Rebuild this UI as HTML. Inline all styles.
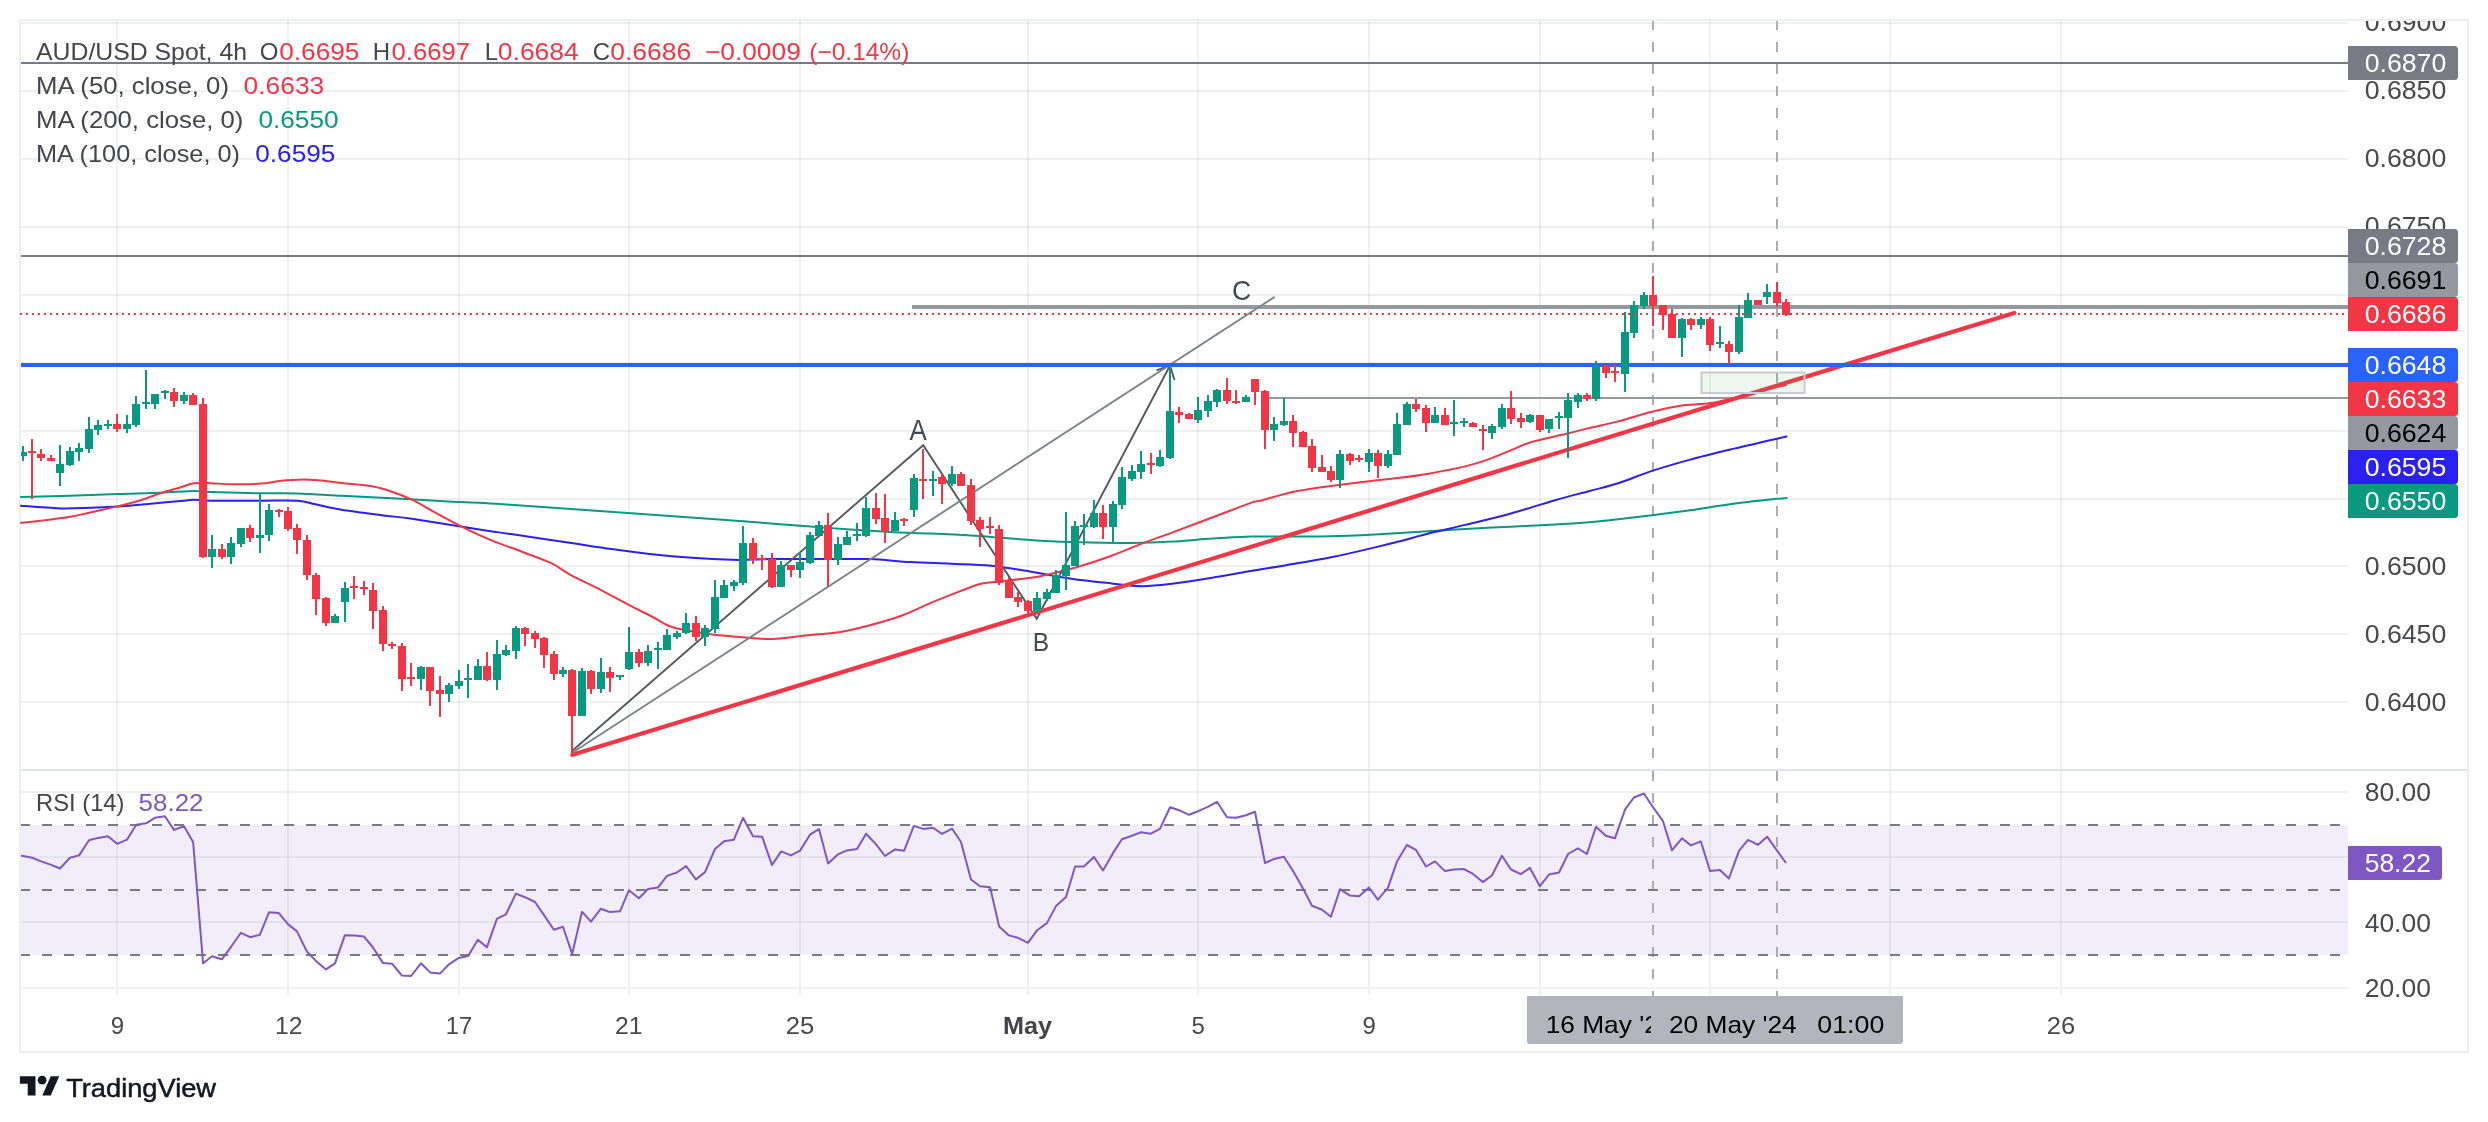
<!DOCTYPE html><html><head><meta charset="utf-8"><title>AUD/USD</title><style>html,body{margin:0;padding:0;background:#fff}body{width:2488px;height:1122px;overflow:hidden}</style></head><body><svg width="2488" height="1122" viewBox="0 0 2488 1122" font-family="Liberation Sans, sans-serif" style="display:block;will-change:transform">
<rect x="0" y="0" width="2488" height="1122" fill="#fff" />
<g shape-rendering="crispEdges">
<rect x="116" y="21" width="2" height="974" fill="#0a2e1a" fill-opacity="0.065"/>
<rect x="287" y="21" width="2" height="974" fill="#0a2e1a" fill-opacity="0.065"/>
<rect x="458" y="21" width="2" height="974" fill="#0a2e1a" fill-opacity="0.065"/>
<rect x="628" y="21" width="2" height="974" fill="#0a2e1a" fill-opacity="0.065"/>
<rect x="799" y="21" width="2" height="974" fill="#0a2e1a" fill-opacity="0.065"/>
<rect x="1027" y="21" width="2" height="974" fill="#0a2e1a" fill-opacity="0.065"/>
<rect x="1197" y="21" width="2" height="974" fill="#0a2e1a" fill-opacity="0.065"/>
<rect x="1368" y="21" width="2" height="974" fill="#0a2e1a" fill-opacity="0.065"/>
<rect x="1539" y="21" width="2" height="974" fill="#0a2e1a" fill-opacity="0.065"/>
<rect x="1709" y="21" width="2" height="974" fill="#0a2e1a" fill-opacity="0.065"/>
<rect x="1889" y="21" width="2" height="974" fill="#0a2e1a" fill-opacity="0.065"/>
<rect x="2060" y="21" width="2" height="974" fill="#0a2e1a" fill-opacity="0.065"/>
<rect x="21" y="22" width="2327" height="2" fill="#0a2e1a" fill-opacity="0.065"/>
<rect x="21" y="90" width="2327" height="2" fill="#0a2e1a" fill-opacity="0.065"/>
<rect x="21" y="158" width="2327" height="2" fill="#0a2e1a" fill-opacity="0.065"/>
<rect x="21" y="226" width="2327" height="2" fill="#0a2e1a" fill-opacity="0.065"/>
<rect x="21" y="294" width="2327" height="2" fill="#0a2e1a" fill-opacity="0.065"/>
<rect x="21" y="362" width="2327" height="2" fill="#0a2e1a" fill-opacity="0.065"/>
<rect x="21" y="430" width="2327" height="2" fill="#0a2e1a" fill-opacity="0.065"/>
<rect x="21" y="498" width="2327" height="2" fill="#0a2e1a" fill-opacity="0.065"/>
<rect x="21" y="565" width="2327" height="2" fill="#0a2e1a" fill-opacity="0.065"/>
<rect x="21" y="633" width="2327" height="2" fill="#0a2e1a" fill-opacity="0.065"/>
<rect x="21" y="701" width="2327" height="2" fill="#0a2e1a" fill-opacity="0.065"/>
<rect x="21" y="791" width="2327" height="2" fill="#0a2e1a" fill-opacity="0.065"/>
<rect x="21" y="856" width="2327" height="2" fill="#0a2e1a" fill-opacity="0.065"/>
<rect x="21" y="921" width="2327" height="2" fill="#0a2e1a" fill-opacity="0.065"/>
</g>
<rect x="21" y="825" width="2327" height="130" fill="#7e57c2" fill-opacity="0.1"/>
<line x1="1653" y1="20" x2="1653" y2="996" stroke="#a9acb9" stroke-width="2" stroke-dasharray="10 12.075" shape-rendering="crispEdges"/>
<line x1="1777" y1="20" x2="1777" y2="996" stroke="#a9acb9" stroke-width="2" stroke-dasharray="10 12.075" shape-rendering="crispEdges"/>
<line x1="20" y1="825" x2="2348" y2="825" stroke="#787b86" stroke-width="2" stroke-dasharray="10 12" shape-rendering="crispEdges"/>
<line x1="20" y1="890" x2="2348" y2="890" stroke="#787b86" stroke-width="2" stroke-dasharray="10 12" shape-rendering="crispEdges"/>
<line x1="20" y1="955" x2="2348" y2="955" stroke="#787b86" stroke-width="2" stroke-dasharray="10 12" shape-rendering="crispEdges"/>
<polyline points="21.0,855.8 23.1,856.0 32.1,857.8 41.1,861.4 51.2,864.9 60.0,868.5 69.9,857.8 79.1,855.4 89.0,840.3 98.0,837.9 107.9,836.3 117.1,843.8 127.0,839.7 136.2,824.7 146.1,823.3 154.9,817.8 164.9,816.2 174.0,829.9 184.0,826.3 193.1,841.9 203.1,963.3 212.0,956.3 221.8,959.3 231.1,946.8 240.9,932.8 250.0,937.2 259.8,934.8 269.0,912.3 278.9,913.1 287.9,924.1 297.0,931.4 306.9,951.5 315.9,960.9 326.0,969.4 335.0,963.3 344.9,935.2 354.1,935.6 364.0,936.6 373.0,947.5 382.8,962.9 392.1,963.7 401.9,975.6 411.0,976.0 421.0,963.3 430.1,972.4 439.9,973.6 449.0,964.3 458.8,957.9 468.1,955.9 477.9,939.8 486.9,947.3 497.0,918.7 506.0,914.3 515.9,893.6 524.9,897.2 535.0,902.0 544.0,915.1 553.9,929.8 562.9,926.8 572.2,953.9 582.0,911.7 591.0,921.7 600.9,908.7 609.9,912.1 620.0,911.3 629.0,890.2 638.9,898.2 648.1,889.0 658.0,887.4 667.0,875.9 676.9,872.5 686.1,866.1 695.9,879.5 705.0,872.1 715.0,849.0 724.1,841.3 733.9,839.7 743.0,817.8 753.0,836.3 762.1,836.7 772.0,865.1 781.1,851.4 790.9,855.4 800.1,850.6 810.0,834.7 819.0,829.1 828.1,863.4 837.9,854.4 847.0,850.4 857.0,849.0 866.1,833.7 876.1,844.4 885.0,856.0 895.0,849.4 904.0,850.8 913.9,825.9 923.1,828.9 933.0,827.7 942.0,833.9 952.1,828.7 960.9,841.7 971.0,879.5 980.0,886.2 990.1,887.2 999.1,926.4 1008.9,935.4 1018.0,937.8 1028.0,942.8 1037.1,930.2 1046.9,923.1 1056.0,906.1 1066.0,897.0 1075.1,866.5 1083.9,866.5 1094.0,857.0 1103.0,870.5 1112.8,853.4 1121.9,839.3 1131.9,835.7 1141.0,832.3 1150.8,833.7 1159.9,828.9 1170.1,807.2 1179.0,810.2 1189.0,814.8 1198.1,811.2 1207.9,806.8 1217.0,801.8 1227.0,817.2 1236.1,817.8 1245.9,815.2 1255.0,811.8 1265.0,863.0 1274.0,859.0 1283.9,856.8 1293.1,871.1 1303.0,888.6 1312.0,905.7 1322.1,909.7 1330.9,916.7 1340.0,889.2 1350.0,895.6 1359.1,896.2 1368.9,887.6 1377.9,899.6 1388.0,887.6 1397.0,861.4 1406.9,845.0 1415.9,849.8 1426.0,866.5 1435.0,861.4 1444.9,871.1 1453.9,869.5 1464.0,869.1 1473.0,873.9 1482.8,882.1 1491.9,875.5 1501.9,855.8 1511.0,869.5 1520.8,874.1 1529.9,867.9 1539.9,886.2 1549.0,874.5 1559.0,872.5 1568.1,854.0 1577.9,848.4 1586.9,854.0 1596.0,826.7 1605.8,835.7 1614.9,838.3 1625.0,809.6 1633.9,797.5 1643.9,793.5 1653.0,807.2 1663.0,821.2 1672.0,850.4 1681.9,838.3 1690.9,845.4 1700.8,841.3 1710.0,870.9 1719.9,870.1 1728.9,878.5 1739.0,850.8 1748.0,839.9 1758.1,844.8 1767.1,836.7 1776.9,850.4 1786.0,863.0" fill="none" stroke="#7e57c2" stroke-width="2" stroke-linejoin="round"/>
<g shape-rendering="crispEdges">
<rect x="19" y="19" width="2450" height="2" fill="#edeef3" />
<rect x="19" y="1051" width="2450" height="2" fill="#edeef3" />
<rect x="19" y="19" width="2" height="1034" fill="#edeef3" />
<rect x="2467" y="19" width="2" height="1034" fill="#edeef3" />
<rect x="21" y="769" width="2446" height="2" fill="#e0e3eb" />
<rect x="21" y="987" width="2327" height="2" fill="#f1f2f3" />
</g>
<g shape-rendering="crispEdges">
<rect x="21" y="62" width="2327" height="2" fill="#787b86" />
<rect x="21" y="255" width="2327" height="2" fill="#787b86" />
<rect x="912" y="305" width="1436" height="4" fill="#9598a1" />
<rect x="1262" y="397" width="1086" height="2" fill="#9598a1" />
</g>
<path d="M21.0,497.1 C29.2,496.9 54.2,496.2 70.3,495.7 C86.4,495.2 102.4,494.6 117.5,494.1 C132.6,493.6 148.0,493.2 160.7,492.7 C173.5,492.2 185.5,491.2 193.9,491.1 C202.3,491.0 199.7,491.7 211.0,492.1 C222.2,492.5 246.8,493.1 261.2,493.3 C275.6,493.5 284.0,493.1 297.4,493.5 C310.8,493.9 325.8,494.9 341.6,495.7 C357.3,496.5 373.4,497.3 391.8,498.3 C410.3,499.3 432.4,500.7 452.1,501.7 C471.8,502.8 464.3,501.7 510.0,504.7 C555.7,507.8 682.8,516.9 726.1,520.0 C769.4,523.1 756.0,522.5 770.0,523.5 C784.0,524.6 796.8,525.6 810.2,526.6 C823.6,527.6 837.0,528.7 850.4,529.6 C863.8,530.5 877.2,531.3 890.6,532.0 C904.0,532.7 917.4,533.0 930.8,533.6 C944.2,534.2 957.6,534.8 971.0,535.6 C984.4,536.4 997.8,537.7 1011.2,538.6 C1024.6,539.6 1038.0,540.6 1051.4,541.2 C1064.7,541.9 1078.1,542.3 1091.5,542.6 C1104.9,542.9 1118.3,543.2 1131.7,543.0 C1145.1,542.9 1158.5,542.4 1171.9,541.6 C1185.3,540.9 1198.7,539.5 1212.1,538.6 C1225.5,537.8 1240.2,536.9 1252.3,536.6 C1264.5,536.3 1272.1,536.7 1285.0,536.6 C1298.0,536.6 1315.0,536.5 1330.0,536.2 C1345.0,535.8 1360.0,535.1 1375.0,534.4 C1390.1,533.6 1405.1,532.6 1420.1,531.7 C1435.1,530.8 1450.1,529.8 1465.1,529.0 C1480.1,528.1 1495.1,527.5 1510.1,526.7 C1525.1,526.0 1542.0,525.2 1555.1,524.5 C1568.2,523.7 1578.4,523.1 1588.9,522.2 C1599.4,521.4 1607.6,520.5 1618.1,519.3 C1628.6,518.1 1639.9,516.7 1651.9,515.2 C1663.9,513.7 1676.3,512.2 1690.2,510.3 C1704.0,508.3 1719.1,505.6 1735.2,503.5 C1751.2,501.5 1777.9,498.8 1786.5,497.9" fill="none" stroke="#089981" stroke-width="2" stroke-linejoin="round" stroke-linecap="round"/>
<path d="M21.0,505.7 C27.5,506.2 48.7,508.0 60.2,508.4 C71.8,508.7 80.8,508.1 90.4,507.8 C99.9,507.4 107.5,507.0 117.5,506.4 C127.6,505.7 140.1,504.6 150.7,503.7 C161.2,502.9 173.6,501.8 180.8,501.1 C188.0,500.5 188.9,499.8 193.9,499.7 C198.9,499.7 199.7,500.6 211.0,500.7 C222.2,500.9 246.8,500.7 261.2,500.7 C275.6,500.7 288.3,500.1 297.4,500.7 C306.4,501.3 308.1,502.8 315.5,504.3 C322.8,505.8 330.5,508.0 341.6,509.8 C352.6,511.6 370.1,513.7 381.8,515.2 C393.5,516.7 398.5,516.9 411.9,518.8 C425.3,520.8 448.8,524.7 462.2,526.8 C475.6,529.0 484.2,530.3 492.3,531.5 C500.5,532.7 497.9,532.1 511.1,534.1 C524.2,536.0 554.6,540.6 571.4,543.1 C588.1,545.6 598.1,547.3 611.5,549.1 C624.9,551.0 638.3,552.7 651.7,554.2 C665.1,555.6 678.5,556.8 691.9,557.8 C705.3,558.7 722.1,559.5 732.1,559.8 C742.2,560.1 745.9,559.7 752.2,559.6 C758.5,559.5 757.0,559.2 770.0,559.1 C783.0,559.0 813.5,559.1 830.3,559.1 C847.0,559.1 857.1,558.6 870.5,559.1 C883.9,559.6 897.3,561.4 910.7,562.1 C924.1,562.9 937.5,563.1 950.9,563.7 C964.3,564.3 977.7,564.4 991.1,565.7 C1004.5,567.1 1017.9,569.6 1031.3,571.8 C1044.7,574.0 1058.0,576.9 1071.4,578.8 C1084.8,580.8 1099.9,582.2 1111.6,583.4 C1123.4,584.7 1131.7,586.2 1141.8,586.2 C1151.8,586.3 1160.2,585.2 1171.9,583.8 C1183.7,582.4 1198.7,580.0 1212.1,577.8 C1225.5,575.6 1240.2,572.8 1252.3,570.8 C1264.5,568.7 1272.1,567.6 1285.0,565.4 C1298.0,563.2 1315.0,560.6 1330.0,557.6 C1345.0,554.6 1363.8,550.1 1375.0,547.4 C1386.3,544.8 1388.2,544.2 1397.6,541.8 C1406.9,539.4 1420.1,535.6 1431.3,532.8 C1442.6,530.0 1452.0,528.1 1465.1,524.9 C1478.2,521.7 1495.1,517.8 1510.1,513.7 C1525.1,509.5 1542.0,503.9 1555.1,500.2 C1568.2,496.4 1578.4,494.0 1588.9,491.2 C1599.4,488.3 1607.6,486.7 1618.1,483.3 C1628.6,479.9 1639.9,474.8 1651.9,470.9 C1663.9,467.0 1676.3,463.4 1690.2,459.6 C1704.0,455.9 1719.1,452.3 1735.2,448.4 C1751.2,444.5 1777.9,438.5 1786.5,436.5" fill="none" stroke="#2a20f0" stroke-width="2" stroke-linejoin="round" stroke-linecap="round"/>
<path d="M21.0,522.8 C24.2,522.5 31.9,521.8 40.1,520.8 C48.4,519.8 61.9,518.2 70.3,516.8 C78.7,515.4 82.5,514.1 90.4,512.4 C98.3,510.6 109.1,508.4 117.5,506.4 C125.9,504.3 133.4,502.5 140.6,500.3 C147.8,498.1 154.0,495.3 160.7,493.1 C167.4,490.9 175.3,488.9 180.8,487.3 C186.3,485.6 188.9,483.9 193.9,483.2 C198.9,482.6 204.8,483.1 211.0,483.2 C217.2,483.4 222.7,484.2 231.1,484.2 C239.4,484.3 253.2,484.2 261.2,483.6 C269.2,483.1 272.3,481.7 279.3,481.0 C286.3,480.4 296.4,479.7 303.4,479.6 C310.4,479.6 315.1,480.1 321.5,480.6 C327.9,481.2 333.2,482.1 341.6,483.0 C350.0,484.0 363.4,484.8 371.7,486.3 C380.1,487.7 385.1,489.4 391.8,491.7 C398.5,493.9 405.2,496.5 411.9,499.7 C418.6,502.9 423.7,506.2 432.0,510.8 C440.4,515.3 452.3,522.0 462.2,526.8 C472.0,531.7 480.8,535.9 491.0,540.1 C501.1,544.3 513.1,548.3 523.1,552.2 C533.2,556.0 543.2,559.4 551.3,563.2 C559.3,567.1 563.0,570.7 571.4,575.3 C579.7,579.8 591.4,585.1 601.5,590.3 C611.5,595.5 623.3,602.1 631.6,606.4 C640.0,610.8 645.7,613.3 651.7,616.5 C657.8,619.6 662.8,623.3 667.8,625.5 C672.8,627.7 674.5,628.0 681.9,629.5 C689.2,631.0 702.0,633.3 712.0,634.5 C722.1,635.8 732.1,636.4 742.2,637.2 C752.2,637.9 761.0,639.3 772.3,639.0 C783.7,638.6 798.9,636.2 810.2,635.1 C821.5,633.9 830.3,633.7 840.3,632.1 C850.4,630.4 860.4,627.7 870.5,625.0 C880.5,622.4 890.6,619.7 900.6,616.0 C910.7,612.3 920.7,607.1 930.8,602.9 C940.8,598.7 952.5,594.1 960.9,590.9 C969.3,587.7 974.3,585.4 981.0,583.8 C987.7,582.2 992.7,582.2 1001.1,581.2 C1009.5,580.2 1022.9,579.0 1031.3,577.8 C1039.6,576.6 1043.0,575.8 1051.4,573.8 C1059.7,571.8 1071.4,568.8 1081.5,565.7 C1091.5,562.7 1101.6,559.4 1111.6,555.7 C1121.7,552.0 1131.7,547.5 1141.8,543.6 C1151.8,539.8 1160.2,536.9 1171.9,532.6 C1183.7,528.2 1198.7,522.5 1212.1,517.5 C1225.5,512.5 1243.9,505.3 1252.3,502.4 C1260.7,499.6 1255.2,502.0 1262.5,500.2 C1269.8,498.3 1283.5,493.7 1296.3,491.2 C1309.0,488.6 1325.9,486.6 1339.0,484.9 C1352.2,483.1 1365.3,481.7 1375.0,480.6 C1384.8,479.5 1388.2,479.3 1397.6,478.1 C1406.9,476.9 1420.1,475.1 1431.3,473.2 C1442.6,471.2 1455.7,468.6 1465.1,466.4 C1474.5,464.1 1480.1,462.3 1487.6,459.6 C1495.1,457.0 1502.6,453.6 1510.1,450.6 C1517.6,447.6 1523.2,444.5 1532.6,441.6 C1542.0,438.8 1557.0,436.0 1566.4,433.8 C1575.7,431.5 1580.2,430.2 1588.9,428.1 C1597.5,426.1 1607.6,424.1 1618.1,421.4 C1628.6,418.6 1641.5,414.3 1651.9,411.7 C1662.3,409.1 1670.7,407.1 1680.5,405.7 C1690.3,404.3 1700.6,404.7 1710.6,403.1 C1720.7,401.5 1732.4,398.3 1740.8,396.3 C1749.1,394.2 1753.3,392.5 1760.9,390.6 C1768.4,388.8 1781.8,385.9 1786.0,385.0" fill="none" stroke="#f23645" stroke-width="2" stroke-linejoin="round" stroke-linecap="round"/>
<polyline points="572.6,750.5 923.2,445.2 1036.7,618.8 1170,365.5" fill="none" stroke="#555863" stroke-width="1.9" stroke-linejoin="miter"/>
<polyline points="1156.5,370.3 1170,365.5 1174.5,380" fill="none" stroke="#555863" stroke-width="1.9"/>
<line x1="572.6" y1="752.5" x2="1274.6" y2="296.9" stroke="#7e818c" stroke-width="1.9"/>
<line x1="572.4" y1="754.8" x2="2014.3" y2="312.9" stroke="#f23645" stroke-width="4.2" stroke-linecap="round"/>
<rect x="1701.5" y="372.5" width="103" height="20.5" fill="#4caf50" fill-opacity="0.1" stroke="#c9ccd4" stroke-width="2"/>
<rect x="21" y="363" width="2327" height="4" fill="#2962ff" shape-rendering="crispEdges"/>
<g shape-rendering="crispEdges">
<rect x="22" y="446" width="2" height="15" fill="#089981" />
<rect x="21" y="452" width="6" height="4" fill="#089981" />
<rect x="31" y="439" width="2" height="60" fill="#f23645" />
<rect x="28" y="451" width="8" height="2" fill="#f23645" />
<rect x="40" y="449" width="2" height="12" fill="#f23645" />
<rect x="37" y="454" width="8" height="4" fill="#f23645" />
<rect x="50" y="455" width="2" height="6" fill="#f23645" />
<rect x="47" y="458" width="8" height="3" fill="#f23645" />
<rect x="59" y="445" width="2" height="41" fill="#089981" />
<rect x="56" y="464" width="8" height="9" fill="#089981" />
<rect x="69" y="447" width="2" height="19" fill="#089981" />
<rect x="66" y="451" width="8" height="14" fill="#089981" />
<rect x="78" y="443" width="2" height="18" fill="#089981" />
<rect x="75" y="448" width="8" height="4" fill="#089981" />
<rect x="88" y="417" width="2" height="36" fill="#089981" />
<rect x="85" y="429" width="8" height="20" fill="#089981" />
<rect x="97" y="420" width="2" height="15" fill="#089981" />
<rect x="94" y="425" width="8" height="5" fill="#089981" />
<rect x="107" y="420" width="2" height="9" fill="#089981" />
<rect x="104" y="424" width="8" height="2" fill="#089981" />
<rect x="116" y="414" width="2" height="18" fill="#f23645" />
<rect x="113" y="424" width="8" height="5" fill="#f23645" />
<rect x="126" y="415" width="2" height="18" fill="#089981" />
<rect x="123" y="424" width="8" height="5" fill="#089981" />
<rect x="135" y="396" width="2" height="31" fill="#089981" />
<rect x="132" y="404" width="8" height="21" fill="#089981" />
<rect x="145" y="370" width="2" height="39" fill="#089981" />
<rect x="142" y="402" width="8" height="2" fill="#089981" />
<rect x="154" y="394" width="2" height="15" fill="#089981" />
<rect x="151" y="394" width="8" height="10" fill="#089981" />
<rect x="164" y="390" width="2" height="9" fill="#089981" />
<rect x="161" y="391" width="8" height="2" fill="#089981" />
<rect x="173" y="388" width="2" height="19" fill="#f23645" />
<rect x="170" y="392" width="8" height="9" fill="#f23645" />
<rect x="183" y="392" width="2" height="12" fill="#089981" />
<rect x="180" y="395" width="8" height="6" fill="#089981" />
<rect x="192" y="393" width="2" height="12" fill="#f23645" />
<rect x="189" y="395" width="8" height="10" fill="#f23645" />
<rect x="202" y="398" width="2" height="160" fill="#f23645" />
<rect x="199" y="404" width="8" height="153" fill="#f23645" />
<rect x="211" y="535" width="2" height="33" fill="#089981" />
<rect x="208" y="549" width="8" height="8" fill="#089981" />
<rect x="221" y="544" width="2" height="15" fill="#f23645" />
<rect x="218" y="549" width="8" height="8" fill="#f23645" />
<rect x="230" y="537" width="2" height="27" fill="#089981" />
<rect x="227" y="543" width="8" height="14" fill="#089981" />
<rect x="240" y="528" width="2" height="19" fill="#089981" />
<rect x="237" y="528" width="8" height="16" fill="#089981" />
<rect x="249" y="525" width="2" height="17" fill="#f23645" />
<rect x="246" y="528" width="8" height="10" fill="#f23645" />
<rect x="259" y="493" width="2" height="60" fill="#089981" />
<rect x="256" y="535" width="8" height="3" fill="#089981" />
<rect x="268" y="504" width="2" height="37" fill="#089981" />
<rect x="265" y="510" width="8" height="25" fill="#089981" />
<rect x="278" y="509" width="2" height="8" fill="#f23645" />
<rect x="275" y="510" width="8" height="2" fill="#f23645" />
<rect x="287" y="507" width="2" height="24" fill="#f23645" />
<rect x="284" y="511" width="8" height="18" fill="#f23645" />
<rect x="296" y="524" width="2" height="30" fill="#f23645" />
<rect x="293" y="528" width="8" height="12" fill="#f23645" />
<rect x="306" y="535" width="2" height="45" fill="#f23645" />
<rect x="303" y="540" width="8" height="35" fill="#f23645" />
<rect x="315" y="573" width="2" height="42" fill="#f23645" />
<rect x="312" y="575" width="8" height="24" fill="#f23645" />
<rect x="325" y="597" width="2" height="29" fill="#f23645" />
<rect x="322" y="598" width="8" height="25" fill="#f23645" />
<rect x="334" y="614" width="2" height="9" fill="#089981" />
<rect x="331" y="616" width="8" height="7" fill="#089981" />
<rect x="344" y="582" width="2" height="40" fill="#089981" />
<rect x="341" y="588" width="8" height="14" fill="#089981" />
<rect x="353" y="576" width="2" height="23" fill="#f23645" />
<rect x="350" y="586" width="8" height="2" fill="#f23645" />
<rect x="363" y="581" width="2" height="14" fill="#f23645" />
<rect x="360" y="587" width="8" height="2" fill="#f23645" />
<rect x="372" y="583" width="2" height="46" fill="#f23645" />
<rect x="369" y="590" width="8" height="21" fill="#f23645" />
<rect x="382" y="606" width="2" height="45" fill="#f23645" />
<rect x="379" y="610" width="8" height="34" fill="#f23645" />
<rect x="391" y="642" width="2" height="7" fill="#f23645" />
<rect x="388" y="644" width="8" height="2" fill="#f23645" />
<rect x="401" y="643" width="2" height="48" fill="#f23645" />
<rect x="398" y="646" width="8" height="33" fill="#f23645" />
<rect x="410" y="663" width="2" height="23" fill="#f23645" />
<rect x="407" y="677" width="8" height="2" fill="#f23645" />
<rect x="420" y="666" width="2" height="24" fill="#089981" />
<rect x="417" y="667" width="8" height="12" fill="#089981" />
<rect x="429" y="667" width="2" height="39" fill="#f23645" />
<rect x="426" y="667" width="8" height="24" fill="#f23645" />
<rect x="439" y="676" width="2" height="41" fill="#f23645" />
<rect x="436" y="690" width="8" height="4" fill="#f23645" />
<rect x="448" y="683" width="2" height="19" fill="#089981" />
<rect x="445" y="685" width="8" height="9" fill="#089981" />
<rect x="458" y="670" width="2" height="19" fill="#089981" />
<rect x="455" y="681" width="8" height="5" fill="#089981" />
<rect x="467" y="664" width="2" height="34" fill="#089981" />
<rect x="464" y="678" width="8" height="2" fill="#089981" />
<rect x="477" y="659" width="2" height="21" fill="#089981" />
<rect x="474" y="666" width="8" height="14" fill="#089981" />
<rect x="486" y="652" width="2" height="29" fill="#f23645" />
<rect x="483" y="666" width="8" height="14" fill="#f23645" />
<rect x="496" y="640" width="2" height="50" fill="#089981" />
<rect x="493" y="654" width="8" height="26" fill="#089981" />
<rect x="505" y="645" width="2" height="11" fill="#089981" />
<rect x="502" y="650" width="8" height="5" fill="#089981" />
<rect x="515" y="626" width="2" height="33" fill="#089981" />
<rect x="512" y="628" width="8" height="23" fill="#089981" />
<rect x="524" y="627" width="2" height="19" fill="#f23645" />
<rect x="521" y="628" width="8" height="6" fill="#f23645" />
<rect x="534" y="631" width="2" height="17" fill="#f23645" />
<rect x="531" y="633" width="8" height="6" fill="#f23645" />
<rect x="543" y="637" width="2" height="31" fill="#f23645" />
<rect x="540" y="638" width="8" height="17" fill="#f23645" />
<rect x="553" y="651" width="2" height="29" fill="#f23645" />
<rect x="550" y="654" width="8" height="20" fill="#f23645" />
<rect x="562" y="667" width="2" height="10" fill="#089981" />
<rect x="559" y="670" width="8" height="4" fill="#089981" />
<rect x="571" y="669" width="2" height="85" fill="#f23645" />
<rect x="568" y="670" width="8" height="46" fill="#f23645" />
<rect x="581" y="668" width="2" height="48" fill="#089981" />
<rect x="578" y="671" width="8" height="45" fill="#089981" />
<rect x="590" y="670" width="2" height="24" fill="#f23645" />
<rect x="587" y="671" width="8" height="18" fill="#f23645" />
<rect x="600" y="658" width="2" height="35" fill="#089981" />
<rect x="597" y="672" width="8" height="17" fill="#089981" />
<rect x="609" y="667" width="2" height="25" fill="#f23645" />
<rect x="606" y="672" width="8" height="6" fill="#f23645" />
<rect x="619" y="675" width="2" height="5" fill="#089981" />
<rect x="616" y="675" width="8" height="2" fill="#089981" />
<rect x="628" y="627" width="2" height="43" fill="#089981" />
<rect x="625" y="652" width="8" height="17" fill="#089981" />
<rect x="638" y="649" width="2" height="18" fill="#f23645" />
<rect x="635" y="652" width="8" height="11" fill="#f23645" />
<rect x="647" y="645" width="2" height="21" fill="#089981" />
<rect x="644" y="651" width="8" height="12" fill="#089981" />
<rect x="657" y="642" width="2" height="27" fill="#089981" />
<rect x="654" y="648" width="8" height="2" fill="#089981" />
<rect x="666" y="629" width="2" height="21" fill="#089981" />
<rect x="663" y="635" width="8" height="15" fill="#089981" />
<rect x="676" y="631" width="2" height="8" fill="#089981" />
<rect x="673" y="633" width="8" height="4" fill="#089981" />
<rect x="685" y="613" width="2" height="21" fill="#089981" />
<rect x="682" y="623" width="8" height="10" fill="#089981" />
<rect x="695" y="616" width="2" height="25" fill="#f23645" />
<rect x="692" y="623" width="8" height="14" fill="#f23645" />
<rect x="704" y="625" width="2" height="21" fill="#089981" />
<rect x="701" y="628" width="8" height="9" fill="#089981" />
<rect x="714" y="580" width="2" height="53" fill="#089981" />
<rect x="711" y="597" width="8" height="32" fill="#089981" />
<rect x="723" y="580" width="2" height="18" fill="#089981" />
<rect x="720" y="585" width="8" height="13" fill="#089981" />
<rect x="733" y="580" width="2" height="11" fill="#089981" />
<rect x="730" y="582" width="8" height="4" fill="#089981" />
<rect x="742" y="526" width="2" height="59" fill="#089981" />
<rect x="739" y="543" width="8" height="40" fill="#089981" />
<rect x="752" y="538" width="2" height="26" fill="#f23645" />
<rect x="749" y="543" width="8" height="17" fill="#f23645" />
<rect x="761" y="555" width="2" height="15" fill="#f23645" />
<rect x="758" y="558" width="8" height="2" fill="#f23645" />
<rect x="771" y="553" width="2" height="35" fill="#f23645" />
<rect x="768" y="559" width="8" height="28" fill="#f23645" />
<rect x="780" y="561" width="2" height="26" fill="#089981" />
<rect x="777" y="565" width="8" height="22" fill="#089981" />
<rect x="790" y="565" width="2" height="12" fill="#f23645" />
<rect x="787" y="565" width="8" height="5" fill="#f23645" />
<rect x="799" y="552" width="2" height="26" fill="#089981" />
<rect x="796" y="562" width="8" height="8" fill="#089981" />
<rect x="809" y="532" width="2" height="32" fill="#089981" />
<rect x="806" y="535" width="8" height="28" fill="#089981" />
<rect x="818" y="521" width="2" height="15" fill="#089981" />
<rect x="815" y="525" width="8" height="11" fill="#089981" />
<rect x="827" y="513" width="2" height="73" fill="#f23645" />
<rect x="824" y="525" width="8" height="35" fill="#f23645" />
<rect x="837" y="537" width="2" height="28" fill="#089981" />
<rect x="834" y="544" width="8" height="16" fill="#089981" />
<rect x="846" y="531" width="2" height="14" fill="#089981" />
<rect x="843" y="537" width="8" height="8" fill="#089981" />
<rect x="856" y="523" width="2" height="18" fill="#089981" />
<rect x="853" y="534" width="8" height="2" fill="#089981" />
<rect x="865" y="497" width="2" height="40" fill="#089981" />
<rect x="862" y="508" width="8" height="28" fill="#089981" />
<rect x="875" y="493" width="2" height="31" fill="#f23645" />
<rect x="872" y="508" width="8" height="11" fill="#f23645" />
<rect x="884" y="494" width="2" height="49" fill="#f23645" />
<rect x="881" y="518" width="8" height="13" fill="#f23645" />
<rect x="894" y="512" width="2" height="19" fill="#089981" />
<rect x="891" y="520" width="8" height="11" fill="#089981" />
<rect x="903" y="518" width="2" height="8" fill="#f23645" />
<rect x="900" y="519" width="8" height="2" fill="#f23645" />
<rect x="913" y="474" width="2" height="43" fill="#089981" />
<rect x="910" y="478" width="8" height="32" fill="#089981" />
<rect x="922" y="449" width="2" height="50" fill="#f23645" />
<rect x="919" y="479" width="8" height="2" fill="#f23645" />
<rect x="932" y="471" width="2" height="25" fill="#089981" />
<rect x="929" y="479" width="8" height="2" fill="#089981" />
<rect x="941" y="473" width="2" height="31" fill="#f23645" />
<rect x="938" y="477" width="8" height="7" fill="#f23645" />
<rect x="951" y="466" width="2" height="20" fill="#089981" />
<rect x="948" y="474" width="8" height="10" fill="#089981" />
<rect x="960" y="472" width="2" height="14" fill="#f23645" />
<rect x="957" y="474" width="8" height="12" fill="#f23645" />
<rect x="970" y="479" width="2" height="46" fill="#f23645" />
<rect x="967" y="485" width="8" height="36" fill="#f23645" />
<rect x="979" y="517" width="2" height="30" fill="#f23645" />
<rect x="976" y="520" width="8" height="9" fill="#f23645" />
<rect x="989" y="517" width="2" height="17" fill="#f23645" />
<rect x="986" y="526" width="8" height="2" fill="#f23645" />
<rect x="998" y="525" width="2" height="60" fill="#f23645" />
<rect x="995" y="529" width="8" height="54" fill="#f23645" />
<rect x="1008" y="577" width="2" height="21" fill="#f23645" />
<rect x="1005" y="580" width="8" height="18" fill="#f23645" />
<rect x="1017" y="592" width="2" height="15" fill="#f23645" />
<rect x="1014" y="597" width="8" height="5" fill="#f23645" />
<rect x="1027" y="600" width="2" height="13" fill="#f23645" />
<rect x="1024" y="601" width="8" height="10" fill="#f23645" />
<rect x="1036" y="592" width="2" height="22" fill="#089981" />
<rect x="1033" y="598" width="8" height="13" fill="#089981" />
<rect x="1046" y="589" width="2" height="12" fill="#089981" />
<rect x="1043" y="592" width="8" height="7" fill="#089981" />
<rect x="1055" y="570" width="2" height="23" fill="#089981" />
<rect x="1052" y="575" width="8" height="18" fill="#089981" />
<rect x="1065" y="512" width="2" height="78" fill="#089981" />
<rect x="1062" y="565" width="8" height="11" fill="#089981" />
<rect x="1074" y="521" width="2" height="45" fill="#089981" />
<rect x="1071" y="526" width="8" height="40" fill="#089981" />
<rect x="1083" y="514" width="2" height="31" fill="#089981" />
<rect x="1080" y="525" width="8" height="2" fill="#089981" />
<rect x="1093" y="500" width="2" height="28" fill="#089981" />
<rect x="1090" y="513" width="8" height="14" fill="#089981" />
<rect x="1102" y="505" width="2" height="34" fill="#f23645" />
<rect x="1099" y="513" width="8" height="14" fill="#f23645" />
<rect x="1112" y="501" width="2" height="42" fill="#089981" />
<rect x="1109" y="504" width="8" height="23" fill="#089981" />
<rect x="1121" y="467" width="2" height="42" fill="#089981" />
<rect x="1118" y="477" width="8" height="28" fill="#089981" />
<rect x="1131" y="465" width="2" height="16" fill="#089981" />
<rect x="1128" y="471" width="8" height="8" fill="#089981" />
<rect x="1140" y="451" width="2" height="28" fill="#089981" />
<rect x="1137" y="464" width="8" height="8" fill="#089981" />
<rect x="1150" y="453" width="2" height="21" fill="#f23645" />
<rect x="1147" y="463" width="8" height="2" fill="#f23645" />
<rect x="1159" y="450" width="2" height="17" fill="#089981" />
<rect x="1156" y="457" width="8" height="9" fill="#089981" />
<rect x="1169" y="366" width="2" height="93" fill="#089981" />
<rect x="1166" y="411" width="8" height="47" fill="#089981" />
<rect x="1178" y="407" width="2" height="16" fill="#f23645" />
<rect x="1175" y="412" width="8" height="3" fill="#f23645" />
<rect x="1188" y="413" width="2" height="6" fill="#f23645" />
<rect x="1185" y="414" width="8" height="5" fill="#f23645" />
<rect x="1197" y="397" width="2" height="26" fill="#089981" />
<rect x="1194" y="410" width="8" height="10" fill="#089981" />
<rect x="1207" y="395" width="2" height="22" fill="#089981" />
<rect x="1204" y="401" width="8" height="10" fill="#089981" />
<rect x="1216" y="389" width="2" height="18" fill="#089981" />
<rect x="1213" y="390" width="8" height="12" fill="#089981" />
<rect x="1226" y="378" width="2" height="26" fill="#f23645" />
<rect x="1223" y="390" width="8" height="11" fill="#f23645" />
<rect x="1235" y="390" width="2" height="14" fill="#f23645" />
<rect x="1232" y="401" width="8" height="2" fill="#f23645" />
<rect x="1245" y="395" width="2" height="7" fill="#089981" />
<rect x="1242" y="397" width="8" height="5" fill="#089981" />
<rect x="1254" y="379" width="2" height="26" fill="#f23645" />
<rect x="1251" y="379" width="8" height="13" fill="#f23645" />
<rect x="1264" y="390" width="2" height="59" fill="#f23645" />
<rect x="1261" y="391" width="8" height="39" fill="#f23645" />
<rect x="1273" y="417" width="2" height="24" fill="#089981" />
<rect x="1270" y="424" width="8" height="6" fill="#089981" />
<rect x="1283" y="398" width="2" height="28" fill="#089981" />
<rect x="1280" y="421" width="8" height="4" fill="#089981" />
<rect x="1292" y="415" width="2" height="32" fill="#f23645" />
<rect x="1289" y="421" width="8" height="12" fill="#f23645" />
<rect x="1302" y="431" width="2" height="16" fill="#f23645" />
<rect x="1299" y="432" width="8" height="15" fill="#f23645" />
<rect x="1311" y="439" width="2" height="33" fill="#f23645" />
<rect x="1308" y="446" width="8" height="22" fill="#f23645" />
<rect x="1321" y="455" width="2" height="17" fill="#f23645" />
<rect x="1318" y="467" width="8" height="5" fill="#f23645" />
<rect x="1330" y="466" width="2" height="16" fill="#f23645" />
<rect x="1327" y="471" width="8" height="9" fill="#f23645" />
<rect x="1339" y="450" width="2" height="38" fill="#089981" />
<rect x="1336" y="454" width="8" height="26" fill="#089981" />
<rect x="1349" y="453" width="2" height="12" fill="#f23645" />
<rect x="1346" y="454" width="8" height="7" fill="#f23645" />
<rect x="1358" y="455" width="2" height="7" fill="#f23645" />
<rect x="1355" y="458" width="8" height="2" fill="#f23645" />
<rect x="1368" y="449" width="2" height="23" fill="#089981" />
<rect x="1365" y="453" width="8" height="9" fill="#089981" />
<rect x="1377" y="450" width="2" height="28" fill="#f23645" />
<rect x="1374" y="453" width="8" height="13" fill="#f23645" />
<rect x="1387" y="450" width="2" height="18" fill="#089981" />
<rect x="1384" y="454" width="8" height="12" fill="#089981" />
<rect x="1396" y="413" width="2" height="42" fill="#089981" />
<rect x="1393" y="424" width="8" height="31" fill="#089981" />
<rect x="1406" y="402" width="2" height="23" fill="#089981" />
<rect x="1403" y="404" width="8" height="21" fill="#089981" />
<rect x="1415" y="399" width="2" height="13" fill="#f23645" />
<rect x="1412" y="404" width="8" height="5" fill="#f23645" />
<rect x="1425" y="405" width="2" height="27" fill="#f23645" />
<rect x="1422" y="408" width="8" height="15" fill="#f23645" />
<rect x="1434" y="407" width="2" height="16" fill="#089981" />
<rect x="1431" y="415" width="8" height="8" fill="#089981" />
<rect x="1444" y="408" width="2" height="17" fill="#f23645" />
<rect x="1441" y="415" width="8" height="10" fill="#f23645" />
<rect x="1453" y="400" width="2" height="36" fill="#089981" />
<rect x="1450" y="422" width="8" height="2" fill="#089981" />
<rect x="1463" y="418" width="2" height="9" fill="#089981" />
<rect x="1460" y="421" width="8" height="2" fill="#089981" />
<rect x="1472" y="422" width="2" height="5" fill="#f23645" />
<rect x="1469" y="423" width="8" height="4" fill="#f23645" />
<rect x="1482" y="425" width="2" height="25" fill="#f23645" />
<rect x="1479" y="429" width="8" height="2" fill="#f23645" />
<rect x="1491" y="424" width="2" height="15" fill="#089981" />
<rect x="1488" y="426" width="8" height="7" fill="#089981" />
<rect x="1501" y="404" width="2" height="25" fill="#089981" />
<rect x="1498" y="408" width="8" height="19" fill="#089981" />
<rect x="1510" y="391" width="2" height="33" fill="#f23645" />
<rect x="1507" y="408" width="8" height="11" fill="#f23645" />
<rect x="1520" y="413" width="2" height="15" fill="#f23645" />
<rect x="1517" y="418" width="8" height="4" fill="#f23645" />
<rect x="1529" y="414" width="2" height="9" fill="#089981" />
<rect x="1526" y="415" width="8" height="7" fill="#089981" />
<rect x="1539" y="415" width="2" height="17" fill="#f23645" />
<rect x="1536" y="415" width="8" height="15" fill="#f23645" />
<rect x="1548" y="419" width="2" height="14" fill="#089981" />
<rect x="1545" y="419" width="8" height="10" fill="#089981" />
<rect x="1558" y="412" width="2" height="17" fill="#089981" />
<rect x="1555" y="416" width="8" height="2" fill="#089981" />
<rect x="1567" y="393" width="2" height="65" fill="#089981" />
<rect x="1564" y="400" width="8" height="18" fill="#089981" />
<rect x="1577" y="393" width="2" height="15" fill="#089981" />
<rect x="1574" y="395" width="8" height="7" fill="#089981" />
<rect x="1586" y="393" width="2" height="8" fill="#f23645" />
<rect x="1583" y="395" width="8" height="4" fill="#f23645" />
<rect x="1595" y="361" width="2" height="40" fill="#089981" />
<rect x="1592" y="366" width="8" height="33" fill="#089981" />
<rect x="1605" y="365" width="2" height="13" fill="#f23645" />
<rect x="1602" y="366" width="8" height="7" fill="#f23645" />
<rect x="1614" y="365" width="2" height="17" fill="#f23645" />
<rect x="1611" y="371" width="8" height="2" fill="#f23645" />
<rect x="1624" y="312" width="2" height="80" fill="#089981" />
<rect x="1621" y="332" width="8" height="42" fill="#089981" />
<rect x="1633" y="301" width="2" height="37" fill="#089981" />
<rect x="1630" y="305" width="8" height="28" fill="#089981" />
<rect x="1643" y="292" width="2" height="17" fill="#089981" />
<rect x="1640" y="295" width="8" height="11" fill="#089981" />
<rect x="1652" y="276" width="2" height="50" fill="#f23645" />
<rect x="1649" y="295" width="8" height="11" fill="#f23645" />
<rect x="1662" y="305" width="2" height="25" fill="#f23645" />
<rect x="1659" y="305" width="8" height="10" fill="#f23645" />
<rect x="1671" y="309" width="2" height="29" fill="#f23645" />
<rect x="1668" y="314" width="8" height="24" fill="#f23645" />
<rect x="1681" y="318" width="2" height="39" fill="#089981" />
<rect x="1678" y="319" width="8" height="19" fill="#089981" />
<rect x="1690" y="318" width="2" height="12" fill="#f23645" />
<rect x="1687" y="319" width="8" height="6" fill="#f23645" />
<rect x="1700" y="317" width="2" height="12" fill="#089981" />
<rect x="1697" y="319" width="8" height="6" fill="#089981" />
<rect x="1709" y="317" width="2" height="34" fill="#f23645" />
<rect x="1706" y="319" width="8" height="26" fill="#f23645" />
<rect x="1719" y="326" width="2" height="22" fill="#089981" />
<rect x="1716" y="342" width="8" height="2" fill="#089981" />
<rect x="1728" y="341" width="2" height="23" fill="#f23645" />
<rect x="1725" y="344" width="8" height="8" fill="#f23645" />
<rect x="1738" y="305" width="2" height="49" fill="#089981" />
<rect x="1735" y="317" width="8" height="35" fill="#089981" />
<rect x="1747" y="293" width="2" height="25" fill="#089981" />
<rect x="1744" y="300" width="8" height="18" fill="#089981" />
<rect x="1757" y="300" width="2" height="5" fill="#f23645" />
<rect x="1754" y="300" width="8" height="5" fill="#f23645" />
<rect x="1766" y="284" width="2" height="20" fill="#089981" />
<rect x="1763" y="292" width="8" height="5" fill="#089981" />
<rect x="1776" y="282" width="2" height="25" fill="#f23645" />
<rect x="1773" y="292" width="8" height="11" fill="#f23645" />
<rect x="1785" y="299" width="2" height="17" fill="#f23645" />
<rect x="1782" y="302" width="8" height="13" fill="#f23645" />
</g>
<line x1="20" y1="314" x2="2348" y2="314" stroke="#f23645" stroke-width="2" stroke-dasharray="2 4" shape-rendering="crispEdges"/>
<text x="909.6" y="439.9" font-size="28.8" fill="#454853" textLength="17.3" lengthAdjust="spacingAndGlyphs">A</text>
<text x="1032.7" y="650.6" font-size="26" fill="#454853" textLength="16.4" lengthAdjust="spacingAndGlyphs">B</text>
<text x="1232" y="300.3" font-size="27.5" fill="#454853" textLength="19.2" lengthAdjust="spacingAndGlyphs">C</text>
<text x="36" y="60" font-size="24" font-weight="normal" fill="#44454d" textLength="211" lengthAdjust="spacingAndGlyphs" >AUD/USD Spot, 4h</text>
<text x="269.15" y="60" font-size="24" font-weight="normal" fill="#44454d" text-anchor="middle" >O</text>
<text x="279.3" y="60" font-size="24" font-weight="normal" fill="#f23645" textLength="80" lengthAdjust="spacingAndGlyphs" >0.6695</text>
<text x="381.5" y="60" font-size="24" font-weight="normal" fill="#44454d" text-anchor="middle" >H</text>
<text x="391.5" y="60" font-size="24" font-weight="normal" fill="#f23645" textLength="78.5" lengthAdjust="spacingAndGlyphs" >0.6697</text>
<text x="491.45" y="60" font-size="24" font-weight="normal" fill="#44454d" text-anchor="middle" >L</text>
<text x="497.8" y="60" font-size="24" font-weight="normal" fill="#f23645" textLength="81" lengthAdjust="spacingAndGlyphs" >0.6684</text>
<text x="601.4" y="60" font-size="24" font-weight="normal" fill="#44454d" text-anchor="middle" >C</text>
<text x="610.2" y="60" font-size="24" font-weight="normal" fill="#f23645" textLength="81" lengthAdjust="spacingAndGlyphs" >0.6686</text>
<text x="704.9" y="60" font-size="24" font-weight="normal" fill="#f23645" textLength="95.9" lengthAdjust="spacingAndGlyphs" >−0.0009</text>
<text x="809.3" y="60" font-size="24" font-weight="normal" fill="#f23645" textLength="100" lengthAdjust="spacingAndGlyphs" >(−0.14%)</text>
<text x="36" y="94" font-size="24" font-weight="normal" fill="#44454d" textLength="193" lengthAdjust="spacingAndGlyphs" >MA (50, close, 0)</text>
<text x="243.6" y="94" font-size="24" font-weight="normal" fill="#f23645" textLength="80.6" lengthAdjust="spacingAndGlyphs" >0.6633</text>
<text x="36" y="127.5" font-size="24" font-weight="normal" fill="#44454d" textLength="207.4" lengthAdjust="spacingAndGlyphs" >MA (200, close, 0)</text>
<text x="258.4" y="127.5" font-size="24" font-weight="normal" fill="#089981" textLength="80.2" lengthAdjust="spacingAndGlyphs" >0.6550</text>
<text x="36" y="161.5" font-size="24" font-weight="normal" fill="#44454d" textLength="204" lengthAdjust="spacingAndGlyphs" >MA (100, close, 0)</text>
<text x="255.3" y="161.5" font-size="24" font-weight="normal" fill="#2a20f0" textLength="80" lengthAdjust="spacingAndGlyphs" >0.6595</text>
<text x="36" y="811" font-size="24" font-weight="normal" fill="#44454d" textLength="88.5" lengthAdjust="spacingAndGlyphs" >RSI (14)</text>
<text x="138.6" y="811" font-size="24" font-weight="normal" fill="#7e57c2" textLength="64.9" lengthAdjust="spacingAndGlyphs" >58.22</text>
<clipPath id="axclip"><rect x="2348" y="21" width="119" height="748"/></clipPath>
<g clip-path="url(#axclip)">
<text x="2364.7" y="31.4" font-size="25" font-weight="normal" fill="#48494f" textLength="81.6" lengthAdjust="spacingAndGlyphs" >0.6900</text>
<text x="2364.7" y="99.4" font-size="25" font-weight="normal" fill="#48494f" textLength="81.6" lengthAdjust="spacingAndGlyphs" >0.6850</text>
<text x="2364.7" y="167.4" font-size="25" font-weight="normal" fill="#48494f" textLength="81.6" lengthAdjust="spacingAndGlyphs" >0.6800</text>
<text x="2364.7" y="235.4" font-size="25" font-weight="normal" fill="#48494f" textLength="81.6" lengthAdjust="spacingAndGlyphs" >0.6750</text>
<text x="2364.7" y="575.4" font-size="25" font-weight="normal" fill="#48494f" textLength="81.6" lengthAdjust="spacingAndGlyphs" >0.6500</text>
<text x="2364.7" y="643.3" font-size="25" font-weight="normal" fill="#48494f" textLength="81.6" lengthAdjust="spacingAndGlyphs" >0.6450</text>
<text x="2364.7" y="711.3" font-size="25" font-weight="normal" fill="#48494f" textLength="81.6" lengthAdjust="spacingAndGlyphs" >0.6400</text>
</g>
<text x="2364.7" y="801.2" font-size="25" font-weight="normal" fill="#48494f" textLength="66.2" lengthAdjust="spacingAndGlyphs" >80.00</text>
<text x="2364.7" y="931.8" font-size="25" font-weight="normal" fill="#48494f" textLength="66.2" lengthAdjust="spacingAndGlyphs" >40.00</text>
<text x="2364.7" y="997" font-size="25" font-weight="normal" fill="#48494f" textLength="66.2" lengthAdjust="spacingAndGlyphs" >20.00</text>
<rect x="2348" y="46" width="110" height="34" rx="3.5" fill="#787b86"/>
<rect x="2348" y="46" width="6" height="34" fill="#787b86"/>
<text x="2364.7" y="71.9" font-size="25" font-weight="normal" fill="#fff" textLength="81.6" lengthAdjust="spacingAndGlyphs" >0.6870</text>
<rect x="2348" y="229" width="110" height="34" rx="3.5" fill="#787b86"/>
<rect x="2348" y="229" width="6" height="34" fill="#787b86"/>
<text x="2364.7" y="254.9" font-size="25" font-weight="normal" fill="#fff" textLength="81.6" lengthAdjust="spacingAndGlyphs" >0.6728</text>
<rect x="2348" y="263" width="110" height="34" rx="3.5" fill="#9598a1"/>
<rect x="2348" y="263" width="6" height="34" fill="#9598a1"/>
<text x="2364.7" y="288.9" font-size="25" font-weight="normal" fill="#000" textLength="81.6" lengthAdjust="spacingAndGlyphs" >0.6691</text>
<rect x="2348" y="297" width="110" height="34" rx="3.5" fill="#f23645"/>
<rect x="2348" y="297" width="6" height="34" fill="#f23645"/>
<text x="2364.7" y="322.9" font-size="25" font-weight="normal" fill="#fff" textLength="81.6" lengthAdjust="spacingAndGlyphs" >0.6686</text>
<rect x="2348" y="348" width="110" height="34" rx="3.5" fill="#2962ff"/>
<rect x="2348" y="348" width="6" height="34" fill="#2962ff"/>
<text x="2364.7" y="373.9" font-size="25" font-weight="normal" fill="#fff" textLength="81.6" lengthAdjust="spacingAndGlyphs" >0.6648</text>
<rect x="2348" y="382" width="110" height="34" rx="3.5" fill="#f23645"/>
<rect x="2348" y="382" width="6" height="34" fill="#f23645"/>
<text x="2364.7" y="407.9" font-size="25" font-weight="normal" fill="#fff" textLength="81.6" lengthAdjust="spacingAndGlyphs" >0.6633</text>
<rect x="2348" y="416" width="110" height="34" rx="3.5" fill="#9598a1"/>
<rect x="2348" y="416" width="6" height="34" fill="#9598a1"/>
<text x="2364.7" y="441.9" font-size="25" font-weight="normal" fill="#000" textLength="81.6" lengthAdjust="spacingAndGlyphs" >0.6624</text>
<rect x="2348" y="450" width="110" height="34" rx="3.5" fill="#2a20f0"/>
<rect x="2348" y="450" width="6" height="34" fill="#2a20f0"/>
<text x="2364.7" y="475.9" font-size="25" font-weight="normal" fill="#fff" textLength="81.6" lengthAdjust="spacingAndGlyphs" >0.6595</text>
<rect x="2348" y="484" width="110" height="34" rx="3.5" fill="#089981"/>
<rect x="2348" y="484" width="6" height="34" fill="#089981"/>
<text x="2364.7" y="509.9" font-size="25" font-weight="normal" fill="#fff" textLength="81.6" lengthAdjust="spacingAndGlyphs" >0.6550</text>
<rect x="2348" y="846" width="94" height="34" rx="3.5" fill="#7e57c2"/>
<rect x="2348" y="846" width="6" height="34" fill="#7e57c2"/>
<text x="2364.7" y="871.9" font-size="25" font-weight="normal" fill="#fff" textLength="66.2" lengthAdjust="spacingAndGlyphs" >58.22</text>
<text x="117.4" y="1034" font-size="24" font-weight="normal" fill="#48494f" text-anchor="middle" >9</text>
<text x="275.05" y="1034" font-size="24" font-weight="normal" fill="#48494f" textLength="27.5" lengthAdjust="spacingAndGlyphs" >12</text>
<text x="445.85" y="1034" font-size="24" font-weight="normal" fill="#48494f" textLength="26.5" lengthAdjust="spacingAndGlyphs" >17</text>
<text x="615.05" y="1034" font-size="24" font-weight="normal" fill="#48494f" textLength="27.5" lengthAdjust="spacingAndGlyphs" >21</text>
<text x="785.85" y="1034" font-size="24" font-weight="normal" fill="#48494f" textLength="28.5" lengthAdjust="spacingAndGlyphs" >25</text>
<text x="1003.05" y="1034" font-size="24" font-weight="bold" fill="#434349" textLength="49.1" lengthAdjust="spacingAndGlyphs" >May</text>
<text x="1198.3" y="1034" font-size="24" font-weight="normal" fill="#48494f" text-anchor="middle" >5</text>
<text x="1369.3" y="1034" font-size="24" font-weight="normal" fill="#48494f" text-anchor="middle" >9</text>
<text x="2046.85" y="1034" font-size="24" font-weight="normal" fill="#48494f" textLength="28.5" lengthAdjust="spacingAndGlyphs" >26</text>
<rect x="1527" y="996" width="376" height="48" rx="3" fill="#b2b5be"/>
<rect x="1527" y="996" width="376" height="6" fill="#b2b5be"/>
<clipPath id="tc1"><rect x="1527" y="996" width="124" height="48"/></clipPath>
<g clip-path="url(#tc1)">
<text x="1545.7" y="1033.2" font-size="24" font-weight="normal" fill="#000" textLength="127.7" lengthAdjust="spacingAndGlyphs" >16 May '24</text>
</g>
<text x="1669" y="1033.2" font-size="24" font-weight="normal" fill="#000" textLength="127.7" lengthAdjust="spacingAndGlyphs" >20 May '24</text>
<text x="1817.3" y="1033.2" font-size="24" font-weight="normal" fill="#000" textLength="67" lengthAdjust="spacingAndGlyphs" >01:00</text>
<g fill="#131722">
<path d="M19.9 1076.3 H35.5 V1095.5 H27.7 V1083.7 H19.9 Z"/>
<circle cx="42.1" cy="1080.2" r="4.4"/>
<path d="M50.8 1076.3 H59.2 L50.7 1095.5 H42.3 Z"/>
</g>
<text x="66.2" y="1096.7" font-size="25.5" font-weight="normal" fill="#131722" textLength="149.8" lengthAdjust="spacingAndGlyphs" stroke="#131722" stroke-width="0.5">TradingView</text>
</svg></body></html>
